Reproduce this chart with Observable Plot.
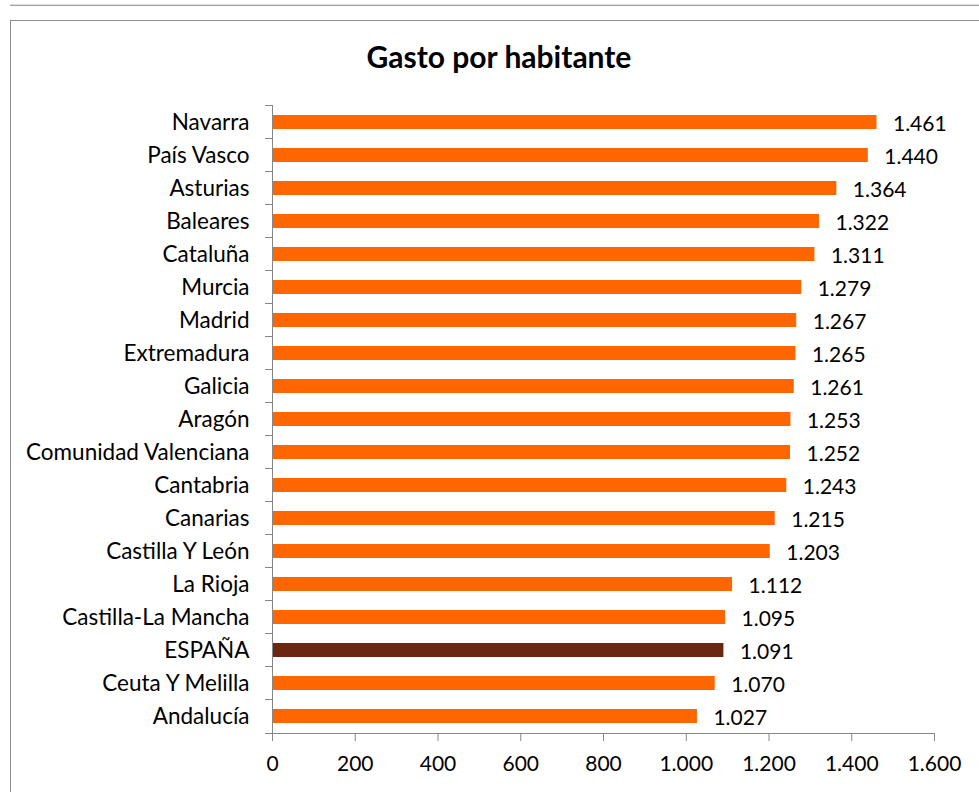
<!DOCTYPE html>
<html>
<head>
<meta charset="utf-8">
<script src="https://cdn.jsdelivr.net/npm/d3@7"></script>
<script src="https://cdn.jsdelivr.net/npm/@observablehq/plot@0.6"></script>
<style>
  html, body { margin: 0; padding: 0; background: #fff; }
  #wrap { position: relative; width: 979px; height: 792px; overflow: hidden; font-family: Lato, "Open Sans", sans-serif; }
  #topline { position: absolute; left: 10px; right: 0; top: 4px; height: 0; border-top: 1px solid #e0e0e0; border-bottom: 1px solid #a0a0a0; }
  #box { position: absolute; left: 10px; top: 20px; width: 1000px; height: 1000px; border: 1px solid #8c8c8c; }
  #title { position: absolute; left: 10px; width: 978px; top: 38px; text-align: center; font-weight: bold; font-size: 30px; color: #000; }
  #chart { position: absolute; left: 0; top: 0; }
</style>
</head>
<body>
<div id="wrap">
  <div id="topline"></div>
  <div id="box"></div>
  <div id="title">Gasto por habitante</div>
  <div id="chart"></div>
</div>
<script>
const regions = ["Navarra", "País Vasco", "Asturias", "Baleares", "Cataluña", "Murcia", "Madrid", "Extremadura", "Galicia", "Aragón", "Comunidad Valenciana", "Cantabria", "Canarias", "Castilla Y León", "La Rioja", "Castilla-La Mancha", "ESPAÑA", "Ceuta Y Melilla", "Andalucía"];
const values = [1461, 1440, 1364, 1322, 1311, 1279, 1267, 1265, 1261, 1253, 1252, 1243, 1215, 1203, 1112, 1095, 1091, 1070, 1027];
const xTicks = [0, 200, 400, 600, 800, 1000, 1200, 1400, 1600];
const highlight = "ESPAÑA";

const data = regions.map((r, i) => ({region: r, value: values[i]}));
const es = d3.formatLocale({decimal: ",", thousands: ".", grouping: [3], currency: ["", "€"]});
const fmt = es.format(",d");
const PAD = 0.58;
const ns = "http://www.w3.org/2000/svg";

const boundaryTicks = (index, scales, vals, dims) => {
  const y = scales.y;
  const x0 = scales.x(0);
  const step = y(regions[1]) - y(regions[0]);
  const g = document.createElementNS(ns, "g");
  const ys = regions.map(r => y(r) - step * PAD / 2);
  ys.push(dims.height - dims.marginBottom);
  for (const yy of ys) {
    const l = document.createElementNS(ns, "line");
    l.setAttribute("x1", x0 - 7); l.setAttribute("x2", x0);
    l.setAttribute("y1", Math.round(yy) + 0.5); l.setAttribute("y2", Math.round(yy) + 0.5);
    l.setAttribute("stroke", "#868686");
    g.appendChild(l);
  }
  return g;
};

const chart = Plot.plot({
  width: 979,
  height: 792,
  marginLeft: 272,
  marginRight: 45,
  marginTop: 105,
  marginBottom: 59,
  style: {background: "transparent", fontFamily: "Lato, 'Open Sans', sans-serif", fontSize: "21px", color: "#000"},
  x: {domain: [0, 1600], label: null},
  y: {domain: regions, paddingInner: PAD, paddingOuter: PAD / 2, label: null},
  marks: [
    Plot.barX(data, {x: "value", y: "region", fill: d => d.region === highlight ? "#6B260F" : "#FF6600"}),
    Plot.text(data, {x: "value", y: "region", text: d => fmt(d.value), textAnchor: "start", dx: 16, dy: 2, fill: "#000", fontSize: 21}),
    Plot.axisY({tickSize: 0, tickPadding: 23, fill: "#000", fontSize: 22.5, label: null}),
    Plot.axisX({ticks: xTicks, tickFormat: fmt, tickSize: 8, tickPadding: 15, stroke: "#868686", fill: "#000", label: null}),
    Plot.frame({anchor: "left", stroke: "#868686"}),
    Plot.frame({anchor: "bottom", stroke: "#868686"}),
    boundaryTicks
  ]
});
document.getElementById("chart").appendChild(chart);
</script>
</body>
</html>
